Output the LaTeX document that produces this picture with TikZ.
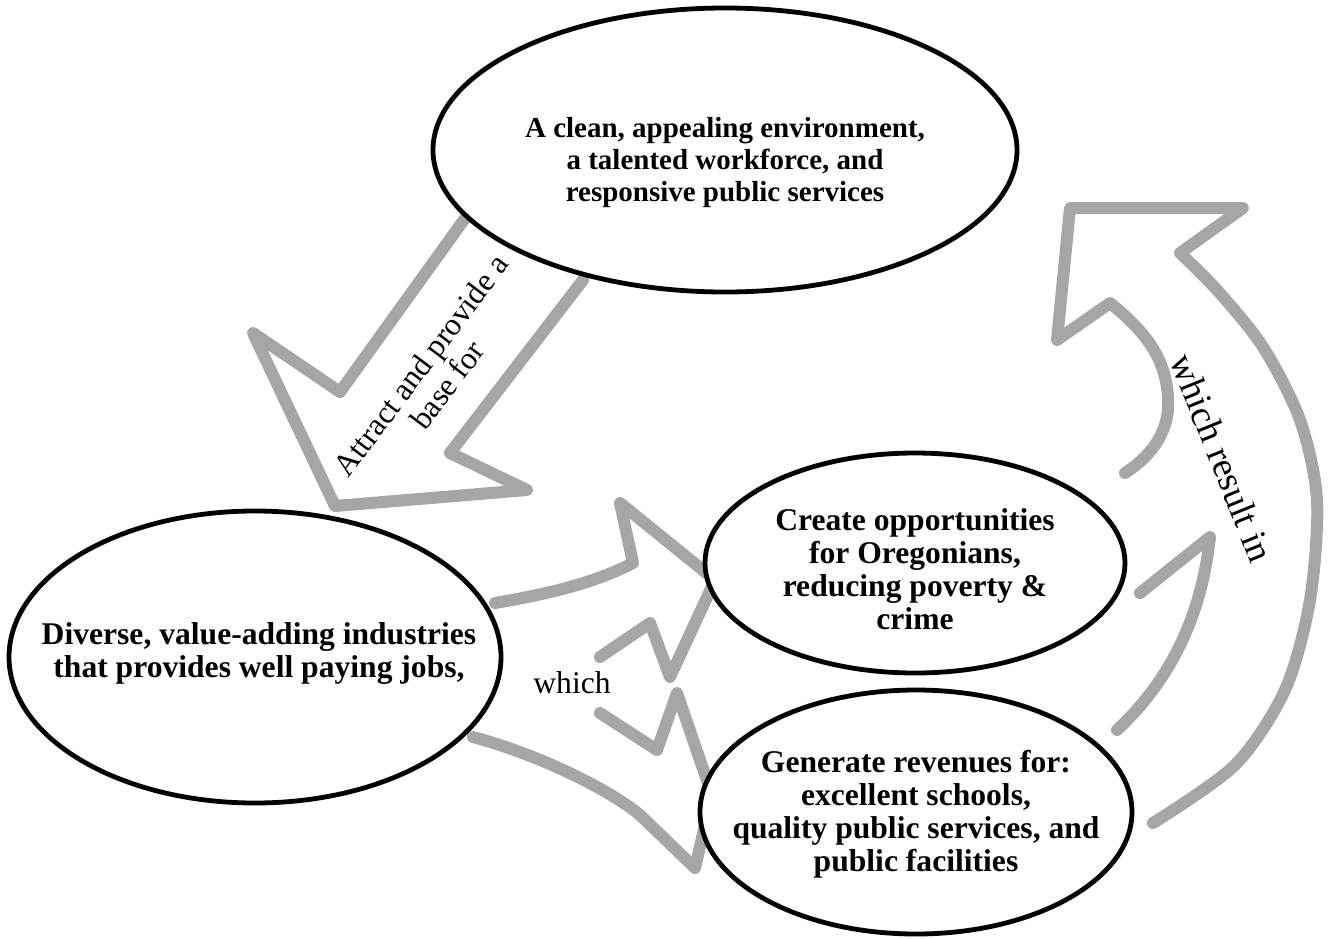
\documentclass[tikz,border=0pt]{standalone}
\usepackage{fontspec}
\setmainfont{Liberation Serif}
\usetikzlibrary{shapes.geometric}
\begin{document}
\begin{tikzpicture}[x=0.5pt,y=-0.5pt,
  blk/.style={draw=gray!70, line width=6pt, line join=round, line cap=round},
  ell/.style={draw=black, line width=2.4pt, fill=white, ellipse, inner sep=0pt},
  lbl/.style={font=\fontsize{15.8}{16.5}\selectfont\bfseries, align=center, inner sep=0pt},
  note/.style={font=\fontsize{15.8}{16.5}\selectfont, align=center, inner sep=0pt}]
\useasboundingbox (0,0) rectangle (1328,938);

% block arrows (outlines)
\draw[blk] (476,203) -- (340,392) -- (253,333) -- (335,506) -- (527,490) -- (450,453) -- (583,280);
\draw[blk] (495,603) .. controls (560,592) and (600,580) .. (633,563) -- (620,503) -- (715,580) -- (670,677) -- (650,623) -- (600,657);
\draw[blk] (600,713) -- (657,750) -- (677,693) -- (712,795) -- (695,868) -- (640,815) .. controls (610,790) and (540,755) .. (473,737);
\draw[blk] plot[smooth] coordinates {(1153,823) (1235,765) (1285,690) (1310,600) (1317,500) (1300,420) (1263,347) (1217,290) (1180,253)} -- (1243,208) -- (1070,208) -- (1057,340) -- (1110,303) .. controls (1150,335) and (1170,365) .. (1168,410) .. controls (1165,440) and (1145,460) .. (1125,473);
\draw[blk] (1117,730) .. controls (1160,690) and (1200,630) .. (1210,537) -- (1140,593);

% ellipses
\node[ell, minimum width=292pt, minimum height=142pt] (top) at (725,150) {};
\node[ell, minimum width=246pt, minimum height=146pt] (left) at (255,657) {};
\node[ell, minimum width=210pt, minimum height=110pt] (mid) at (915,563) {};
\node[ell, minimum width=216pt, minimum height=122pt] (bot) at (916,812) {};

\node[lbl, font=\fontsize{14.5}{16}\selectfont\bfseries] (toptxt) at (725,163) {A clean, appealing environment,\\a talented workforce, and\\responsive public services};
\node[lbl] (lefttxt) at (259,654) {Diverse, value-adding industries\\that provides well paying jobs,};
\node[lbl] (midtxt) at (915,569) {Create opportunities\\for Oregonians,\\reducing poverty \&\\crime};
\node[lbl] (bottxt) at (916,814) {Generate revenues for:\\excellent schools,\\quality public services, and\\public facilities};

\node[note] (which) at (572,683) {which};
\node[note, rotate=53] (attract) at (434,375) {Attract and provide a\\base for};
\node[note, font=\fontsize{18.5}{20}\selectfont, rotate=-68] (result) at (1222,458) {which result in};
\end{tikzpicture}
\end{document}
